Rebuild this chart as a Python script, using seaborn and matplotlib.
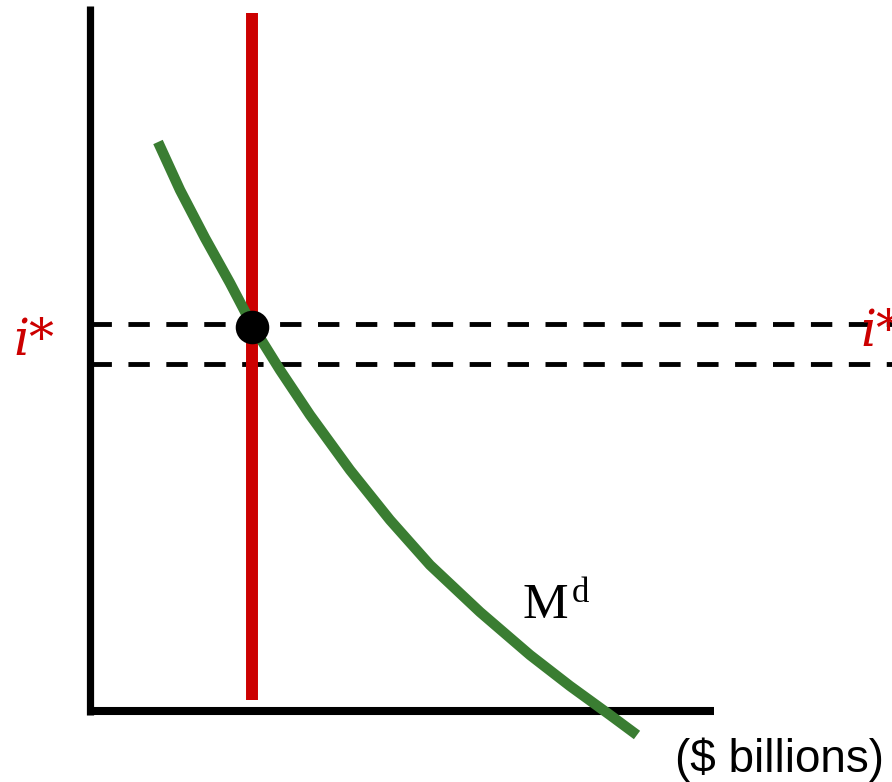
import matplotlib
matplotlib.use("Agg")
import matplotlib.pyplot as plt
import seaborn as sns
import pandas as pd

# Money demand curve (quantity, interest rate) in arbitrary units
md_quantity = [68, 90, 115, 140, 162, 190, 220, 260, 300, 340, 390, 440, 480, 520, 547]
md_rate = [569, 521, 473, 428, 386, 341, 296, 241, 191, 146, 99, 56, 25, -4, -24]

# Money supply (vertical)
ms_quantity = [162, 162]
ms_rate = [11, 698]

# Equilibrium interest rates (dashed)
i_star_levels = [387, 347]
i_star_extent = [0, 802]

# Equilibrium point
eq_q = [162]
eq_r = [384]

sns.set_style("white")
fig = plt.figure(figsize=(8.92, 7.82), dpi=100)
ax = fig.add_axes([0, 0, 1, 1])

# axes lines
ax.plot([0, 0], [-4, 705], color="black", lw=5.2, solid_capstyle="butt")
ax.plot([-3.5, 624], [0, 0], color="black", lw=5.8, solid_capstyle="butt")

for lvl in i_star_levels:
    df = pd.DataFrame({"q": i_star_extent, "r": [lvl, lvl]})
    sns.lineplot(data=df, x="q", y="r", ax=ax, color="black", lw=3.5,
                 linestyle=(0, (4.4, 3.4)), sort=False, estimator=None,
                 legend=False)

df_ms = pd.DataFrame({"q": ms_quantity, "r": ms_rate})
sns.lineplot(data=df_ms, x="q", y="r", ax=ax, color="#cc0000", lw=8.6,
             sort=False, estimator=None, legend=False, solid_capstyle="butt")

df_md = pd.DataFrame({"q": md_quantity, "r": md_rate})
sns.lineplot(data=df_md, x="q", y="r", ax=ax, color="#3a7d32", lw=7.5,
             sort=False, estimator=None, legend=False, solid_capstyle="butt")

sns.scatterplot(x=eq_q, y=eq_r, ax=ax, color="black", s=500, zorder=5,
                edgecolor="black", legend=False)

ax.set_xlim(-90, 802)
ax.set_ylim(-71, 711)
ax.set_xlabel("")
ax.set_ylabel("")
ax.axis("off")

serif_it = dict(family="DejaVu Serif", style="italic", color="#cc0000", fontsize=36)
fig.text(13, 782 - 355, "i*", transform=None, **serif_it)
fig.text(860, 782 - 346, "i*", transform=None, **serif_it)

fig.text(523, 782 - 618, "M", transform=None, family="Liberation Serif", fontsize=37, color="black")
fig.text(572, 782 - 602, "d", transform=None, family="Liberation Serif", fontsize=25, color="black")

fig.text(675, 782 - 772, "($ billions)", transform=None, family="Liberation Sans",
         fontsize=33, color="black")

fig.savefig("out.png", dpi=100)
